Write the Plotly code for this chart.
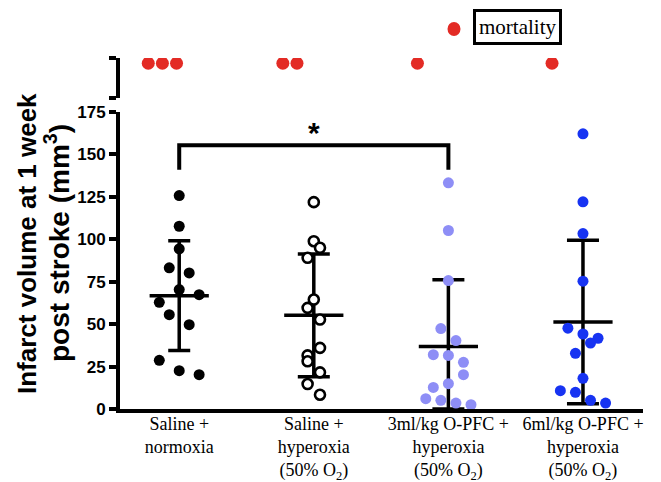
import plotly.graph_objects as go

# ---------------- data ----------------
categories = [
    "Saline +<br>normoxia",
    "Saline +<br>hyperoxia<br>(50% O<sub>2</sub>)",
    "3ml/kg O-PFC +<br>hyperoxia<br>(50% O<sub>2</sub>)",
    "6ml/kg O-PFC +<br>hyperoxia<br>(50% O<sub>2</sub>)",
]

g1_values = [125.8, 107.7, 94.4, 83.2, 80.2, 70.4, 67.4, 62.9, 55.6, 49.7, 28.7, 22.6, 20.2]
g2_values = [121.9, 98.9, 95.0, 89.1, 64.5, 59.6, 52.7, 36.0, 31.6, 28.1, 21.6, 14.7, 8.4]
g3_values = [133.3, 105.2, 75.7, 47.4, 40.3, 32.0, 31.6, 27.5, 20.2, 14.9, 12.7, 6.1, 5.1, 3.5, 2.5]
g4_values = [162.2, 122.1, 103.4, 75.3, 47.6, 44.2, 41.7, 38.9, 32.8, 18.1, 10.8, 9.8, 5.1, 3.5]

# scatter-plot slot of each point (left/right of the group centre)
g1_slots = [0, 0, 0, -1, 1, 0, 2, -2, -1, 1, -2, 0, 2]
g2_slots = [0, 0, 1, -1, 0, -1, 1, 1, -1, -1, 1, -1, 1]
g3_slots = [0, 0, 0, -1, 1, -2, 0, 2, 2, 0, -2, -3, -1, 1, 3]
g4_slots = [0, 0, 0, 0, -2, 0, 2, 1, -1, 0, -3, -1, 1, 3]

means = [66.8, 55.2, 36.9, 51.3]
sds = [32.3, 36.2, 39.2, 48.2]
mortality = [3, 2, 1, 1]

y_ticks = [0, 25, 50, 75, 100, 125, 150, 175]

# ---------------- styling ----------------
slot_width = [0.074, 0.046, 0.056, 0.056]
cap_width = [11, 16, 16, 16]
RED = "#e32b25"
L, R, T, B = 120, 18, 58, 73
W, H = 661, 482
PW, PH = W - L - R, H - T - B


def px_x(px):
    return (px - L) / PW


def px_y(py):
    return (H - B - py) / PH


fig = go.Figure()

values = [g1_values, g2_values, g3_values, g4_values]
slots = [g1_slots, g2_slots, g3_slots, g4_slots]

# error bars (SD)
for i, (m, s) in enumerate(zip(means, sds)):
    fig.add_trace(go.Scatter(
        x=[i], y=[m], mode="markers",
        marker=dict(size=1, opacity=0),
        error_y=dict(type="data", symmetric=False, array=[s], arrayminus=[min(s, m)],
                     thickness=3.5, width=cap_width[i], color="black"),
        showlegend=False, hoverinfo="skip"))

# mean lines
mx, my = [], []
for i, m in enumerate(means):
    mx += [i - 0.22, i + 0.22, None]
    my += [m, m, None]
fig.add_trace(go.Scatter(x=mx, y=my, mode="lines", line=dict(color="black", width=3.5),
                         showlegend=False, hoverinfo="skip"))

marker_styles = [
    dict(color="black", size=11, line=dict(width=0)),
    dict(color="white", size=10, line=dict(color="black", width=2.6)),
    dict(color="#8e8ef6", size=11, line=dict(width=0)),
    dict(color="#1733f2", size=11, line=dict(width=0)),
]
for i in range(4):
    xs = [i + sl * slot_width[i] for sl in slots[i]]
    fig.add_trace(go.Scatter(x=xs, y=values[i], mode="markers", marker=marker_styles[i],
                             showlegend=False))

# significance bracket
fig.add_trace(go.Scatter(x=[0, 0, 2, 2], y=[141, 155.5, 155.5, 141], mode="lines",
                         line=dict(color="black", width=4), showlegend=False, hoverinfo="skip"))
fig.add_annotation(x=1, y=163, xref="x", yref="y", text="<b>*</b>", showarrow=False,
                   xanchor="center", yanchor="middle",
                   font=dict(family="Liberation Sans, Arial", size=30, color="black"))

# mortality dots on the broken upper axis
dx, dy = [], []
for i, n in enumerate(mortality):
    for k in range(n):
        dx.append(i - 0.23 + k * 0.105)
        dy.append(0.87)
fig.add_trace(go.Scatter(x=dx, y=dy, yaxis="y2", mode="markers",
                         marker=dict(color=RED, size=13), showlegend=False))

# legend for mortality
fig.add_shape(type="circle", xref="paper", yref="paper", xsizemode="pixel", ysizemode="pixel",
              xanchor=px_x(454), yanchor=px_y(29), x0=-6.5, x1=6.5, y0=-7, y1=7,
              fillcolor=RED, line=dict(width=0))
fig.add_annotation(x=px_x(517.5), y=px_y(27), xref="paper", yref="paper", text="mortality",
                   xanchor="center", yanchor="middle",
                   showarrow=False, bordercolor="black", borderwidth=3, borderpad=3,
                   font=dict(family="Liberation Serif, Times New Roman", size=21, color="black"))

# y-axis title (two lines)
fig.add_annotation(x=px_x(27), y=px_y(244), xref="paper", yref="paper",
                   xanchor="center", yanchor="middle",
                   text="<b>Infarct volume at 1 week</b>", textangle=-90, showarrow=False,
                   font=dict(family="Liberation Sans, Arial", size=26, color="black"))
fig.add_annotation(x=px_x(57), y=px_y(243), xref="paper", yref="paper",
                   xanchor="center", yanchor="middle",
                   text="<b>post stroke (mm<sup>3</sup>)</b>", textangle=-90, showarrow=False,
                   font=dict(family="Liberation Sans, Arial", size=28, color="black"))

fig.update_layout(
    width=W, height=H,
    margin=dict(l=L, r=R, t=T, b=B, autoexpand=False),
    plot_bgcolor="white", paper_bgcolor="white",
    xaxis=dict(range=[-0.44, 3.446], tickvals=[0, 1, 2, 3], ticktext=categories,
               showline=True, linecolor="black", linewidth=4, ticks="", showgrid=False,
               zeroline=False, automargin=False, ticklabelstandoff=-5,
               tickfont=dict(family="Liberation Serif, Times New Roman", size=18, color="black")),
    yaxis=dict(domain=[0, 0.846], range=[0, 175], tickvals=y_ticks,
               showline=True, linecolor="black", linewidth=4, ticks="outside", ticklen=7,
               tickwidth=4, tickcolor="black", showgrid=False, zeroline=False, automargin=False,
               tickfont=dict(family="Liberation Sans, Arial", size=17, color="black",
                             weight="bold")),
    yaxis2=dict(domain=[0.885, 1.0], range=[0, 1], tickvals=[0, 1], showticklabels=False,
                showline=True, linecolor="black", linewidth=4, ticks="outside", ticklen=7,
                tickwidth=4, tickcolor="black", showgrid=False, zeroline=False, anchor="x",
                automargin=False),
)

fig.write_html("out.html")
